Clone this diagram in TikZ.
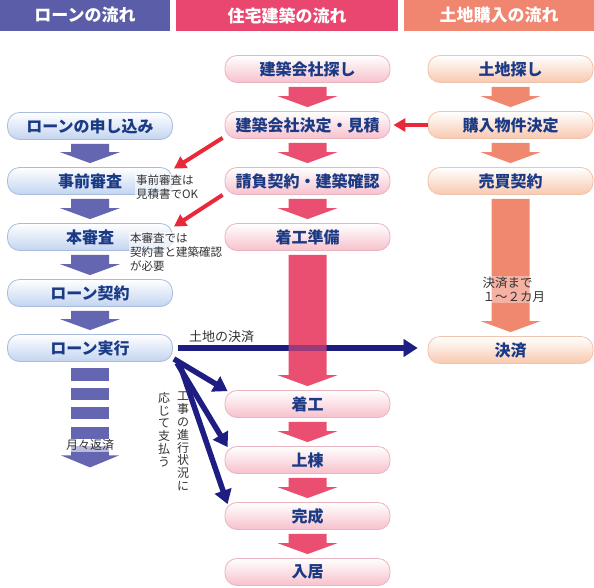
\documentclass[tikz,border=0pt]{standalone}
\usepackage{fontspec}
\setmainfont{Noto Sans CJK JP}
\usetikzlibrary{arrows.meta,calc}
\definecolor{hblue}{HTML}{5B5DA8}
\definecolor{hpink}{HTML}{E9476F}
\definecolor{horange}{HTML}{F08570}
\definecolor{ablue}{HTML}{6466B2}
\definecolor{apink}{HTML}{EA4F72}
\definecolor{aorange}{HTML}{F0886F}
\definecolor{navy}{HTML}{1E1E82}
\definecolor{redarr}{HTML}{E8293A}
\definecolor{boxtext}{HTML}{1A3A85}
\definecolor{bborder}{HTML}{A9BCE0}
\definecolor{pborder}{HTML}{E8B4C0}
\definecolor{oborder}{HTML}{F0C4AC}
\definecolor{bfill}{HTML}{C3D4F0}
\definecolor{pfill}{HTML}{F7C0CC}
\definecolor{ofill}{HTML}{F9C8AE}
\definecolor{notegray}{HTML}{333333}
\tikzset{
  hdr/.style={minimum height=31pt, inner sep=0pt, text=white, font=\bfseries\fontsize{17}{17}\selectfont},
  flowbox/.style={rounded corners=12pt, minimum width=165pt, minimum height=27pt, inner sep=0pt,
    line width=0.8pt, text=boxtext, font=\bfseries\fontsize{16}{16}\selectfont},
  bluebox/.style={flowbox, draw=bborder, top color=white, bottom color=bfill},
  pinkbox/.style={flowbox, draw=pborder, top color=white, bottom color=pfill},
  orangebox/.style={flowbox, draw=oborder, top color=white, bottom color=ofill},
  redarrow/.style={draw=redarr, line width=4pt, -{Triangle[length=12pt,width=13pt]}},
  navyarrow/.style={draw=navy, line width=5.5pt, -{Triangle[length=14pt,width=17pt]}},
  note/.style={text=notegray, inner sep=0pt, align=left, font=\fontsize{11.5}{14}\selectfont},
  vnote/.style={text=notegray, inner sep=0pt, align=center, font=\fontsize{12}{12.8}\selectfont},
}
\newcommand\blockarrow[4][]{%
  \fill[#2,#1] ($(#3.south)+(-19,4)$) -- ($(#3.south)+(19,4)$) -- ($(#4.north)+(19,-15)$)
    -- ($(#4.north)+(30,-15)$) -- ($(#4.north)+(0,-4)$) -- ($(#4.north)+(-30,-15)$)
    -- ($(#4.north)+(-19,-15)$) -- cycle;}
\begin{document}
\begin{tikzpicture}[x=1pt,y=-1pt]
\fill[white] (0,0) rectangle (594,587);
\useasboundingbox (0,0) rectangle (594,587);
% headers
\node[hdr, fill=hblue, minimum width=170pt] (h1) at (85,15.5) {ローンの流れ};
\node[hdr, fill=hpink, minimum width=222pt] (h2) at (287,15.5) {住宅建築の流れ};
\node[hdr, fill=horange, minimum width=190pt] (h3) at (499,15.5) {土地購入の流れ};
% loan column
\node[bluebox] (apply) at (90,126) {ローンの申し込み};
\node[bluebox] (pre) at (90,181) {事前審査};
\node[bluebox] (main) at (90,237) {本審査};
\node[bluebox] (contract) at (90,293) {ローン契約};
\node[bluebox] (exec) at (90,348) {ローン実行};
% building column
\node[pinkbox] (sagashi) at (307.5,69) {建築会社探し};
\node[pinkbox] (kettei) at (307.5,125) {建築会社決定・見積};
\node[pinkbox] (ukeoi) at (307.5,181) {請負契約・建築確認};
\node[pinkbox] (junbi) at (307.5,237) {着工準備};
\node[pinkbox] (chakko) at (307.5,404) {着工};
\node[pinkbox] (joto) at (307.5,460) {上棟};
\node[pinkbox] (kansei) at (307.5,516) {完成};
\node[pinkbox] (nyukyo) at (307.5,572) {入居};
% land column
\node[orangebox] (tochi) at (510.5,69) {土地探し};
\node[orangebox] (buy) at (510.5,125) {購入物件決定};
\node[orangebox] (baibai) at (510.5,181) {売買契約};
\node[orangebox] (kessai) at (510.5,350) {決済};
% block arrows
\blockarrow{ablue}{apply}{pre}
\blockarrow{ablue}{pre}{main}
\blockarrow{ablue}{main}{contract}
\blockarrow{ablue}{contract}{exec}
\blockarrow{apink}{sagashi}{kettei}
\blockarrow{apink}{kettei}{ukeoi}
\blockarrow{apink}{ukeoi}{junbi}
\blockarrow{apink}{chakko}{joto}
\blockarrow{apink}{joto}{kansei}
\blockarrow{apink}{kansei}{nyukyo}
\blockarrow{aorange}{tochi}{buy}
\blockarrow{aorange}{buy}{baibai}
\blockarrow[xshift=1.5pt]{aorange}{baibai}{kessai}
% monthly repayment dashed arrow
\coordinate (m) at (exec.south);
\foreach \a/\b in {6.5/19.5, 26.5/38.5, 45.5/57.5, 65.5/77.5, 84.5/94} {
  \fill[ablue] ($(m)+(-19,\a)$) rectangle ($(m)+(19,\b)$);
}
\fill[ablue] ($(m)+(-29,93.5)$) -- ($(m)+(29,93.5)$) -- ($(m)+(0,105.5)$) -- cycle;
\node[note, font=\fontsize{12}{12}\selectfont, fill=white, fill opacity=0.55, text opacity=1, inner sep=1pt] (hensai) at ($(m)+(0,83.5)$) {月々返済};
% land payment line, crossed by the big pink arrow
\draw[navyarrow] ($(exec.east)+(5,0)$) -- ($(exec.east -| kessai.west)+(-10,0)$);
\blockarrow{apink}{junbi}{chakko}
\draw[navyarrow, opacity=0.4] ($(exec.east)+(5,0)$) -- ($(exec.east -| kessai.west)+(-10,0)$);
\node[note, font=\fontsize{13}{13}\selectfont, anchor=south west] (tochikessai) at ($(exec.east)+(16,-5)$) {土地の決済};
% navy payment arrows
\coordinate (s1) at ($(exec.south east)+(1,-3)$);
\coordinate (s2) at ($(exec.south east)+(4,1)$);
\coordinate (s3) at ($(exec.south east)+(7,3)$);
\draw[navyarrow] (s1) -- ($(chakko.north west)+(3,1)$);
\draw[navyarrow] (s2) -- ($(joto.north west)+(3,1)$);
\draw[navyarrow] (s3) -- ($(kansei.north west)+(3,2)$);
% vertical note
\node[vnote, anchor=north] (v1) at (183,392) {工\\事\\の\\進\\行\\状\\況\\に};
\node[vnote, anchor=north] (v2) at (164,392) {応\\じ\\て\\支\\払\\う};
% red arrows
\draw[redarrow] (buy.west) -- ($(kettei.east)+(3,0)$);
\draw[redarrow] ($(kettei.south west)+(-2,-1)$) -- ($(pre.north east)+(1,1.5)$);
\draw[redarrow] ($(ukeoi.south west)+(-2,0)$) -- ($(main.north east)+(1,3.5)$);
% notes
\node[note, anchor=north west, fill=white, fill opacity=0.6, text opacity=1, inner sep=1pt] (n1) at (135,174) {事前審査は\\見積書でOK};
\node[note, anchor=north west, fill=white, fill opacity=0.6, text opacity=1, inner sep=1pt] (n2) at (129,232) {本審査では\\契約書と建築確認\\が必要};
\node[note, anchor=north west, font=\fontsize{12.5}{14}\selectfont, fill=white, fill opacity=0.35, text opacity=1, inner sep=0.5pt] (n3) at (482,276) {決済まで\\１～２カ月};
\end{tikzpicture}
\end{document}
